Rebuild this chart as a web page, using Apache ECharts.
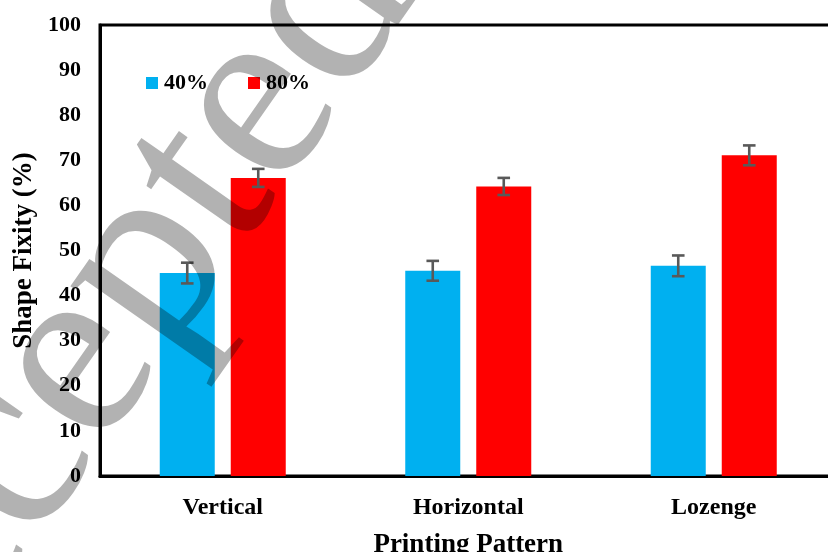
<!DOCTYPE html>
<html>
<head>
<meta charset="utf-8">
<script src="https://cdn.jsdelivr.net/npm/echarts@6/dist/echarts.min.js"></script>
<style>
  html, body { margin: 0; padding: 0; background: #fff; }
  #chart { width: 828px; height: 552px; }
</style>
</head>
<body>
<div id="chart"></div>
<script>
// Shape fixity by printing pattern, two infill levels, with error bars
const categories = ['Vertical', 'Horizontal', 'Lozenge'];
const seriesNames = ['40%', '80%'];
const fixity40 = [45.0, 45.5, 46.6];
const fixity80 = [66.1, 64.2, 71.1];
const error40 = [2.3, 2.2, 2.3];
const error80 = [2.0, 1.9, 2.2];
const yTicks = { min: 0, max: 100, interval: 10 };

const SERIF = '"Liberation Serif", "Times New Roman", serif';
const BAR_W = 55;
const BAR_GAP = 16;
const COLORS = ['#00B0F0', '#FF0000'];

function errorSeries(name, values, errors, sign) {
  const data = values.map((v, i) => [i, v, errors[i]]);
  return {
    type: 'custom',
    name: name + ' error',
    z: 5,
    silent: true,
    data: data,
    encode: { x: 0, y: 1 },
    renderItem: function (params, api) {
      const idx = api.value(0);
      const v = api.value(1);
      const e = api.value(2);
      const offset = sign * (BAR_W + BAR_GAP) / 2;
      const top = api.coord([idx, v + e]);
      const bot = api.coord([idx, v - e]);
      const x = top[0] + offset;
      const half = 6.3;
      const style = { stroke: '#595959', lineWidth: 2.6, fill: null };
      return {
        type: 'group',
        children: [
          { type: 'line', shape: { x1: x, y1: top[1], x2: x, y2: bot[1] }, style: style },
          { type: 'line', shape: { x1: x - half, y1: top[1], x2: x + half, y2: top[1] }, style: style },
          { type: 'line', shape: { x1: x - half, y1: bot[1], x2: x + half, y2: bot[1] }, style: style }
        ]
      };
    }
  };
}

const chart = echarts.init(document.getElementById('chart'), null, { renderer: 'canvas' });

chart.setOption({
  animation: false,
  backgroundColor: '#fff',
  textStyle: { fontFamily: SERIF },
  grid: {
    left: 100, top: 25, width: 736.5, height: 451,
    outerBoundsMode: 'none',
    containLabel: false,
    show: true, borderColor: '#000', borderWidth: 3, backgroundColor: 'transparent'
  },
  legend: {
    left: 146, top: 72, padding: 0,
    itemWidth: 12, itemHeight: 12, itemGap: 40,
    icon: 'rect',
    data: seriesNames,
    textStyle: { fontFamily: SERIF, fontWeight: 'bold', fontSize: 22, color: '#000', padding: [0, 0, 0, 1] }
  },
  xAxis: {
    type: 'category',
    data: categories,
    name: 'Printing Pattern',
    nameLocation: 'middle',
    nameGap: 56,
    nameTextStyle: { fontFamily: SERIF, fontWeight: 'bold', fontSize: 27, color: '#000' },
    axisLine: { lineStyle: { color: '#000', width: 3 } },
    axisTick: { show: false },
    axisLabel: { fontFamily: SERIF, fontWeight: 'bold', fontSize: 24, color: '#000', margin: 20 },
    splitLine: { show: false }
  },
  yAxis: {
    type: 'value',
    min: yTicks.min, max: yTicks.max, interval: yTicks.interval,
    name: 'Shape Fixity (%)',
    nameLocation: 'middle',
    nameGap: 62,
    nameTextStyle: { fontFamily: SERIF, fontWeight: 'bold', fontSize: 27, color: '#000' },
    axisLine: { show: true, lineStyle: { color: '#000', width: 3 } },
    axisTick: { show: false },
    axisLabel: { fontFamily: SERIF, fontWeight: 'bold', fontSize: 22, color: '#000', margin: 19 },
    splitLine: { show: false }
  },
  series: [
    {
      name: seriesNames[0], type: 'bar', data: fixity40,
      barWidth: BAR_W, barGap: (BAR_GAP / BAR_W * 100) + '%',
      itemStyle: { color: COLORS[0] }
    },
    {
      name: seriesNames[1], type: 'bar', data: fixity80,
      barWidth: BAR_W,
      itemStyle: { color: COLORS[1] }
    },
    errorSeries(seriesNames[0], fixity40, error40, -1),
    errorSeries(seriesNames[1], fixity80, error80, 1)
  ],
  graphic: [
    {
      type: 'text',
      z: 100,
      silent: true,
      x: 84, y: 355,
      rotation: 55 * Math.PI / 180,
      style: {
        text: 'Accepted',
        x: 0, y: 0,
        textAlign: 'center',
        textVerticalAlign: 'middle',
        font: '258px ' + SERIF,
        fill: 'rgba(0,0,0,0.3)'
      }
    }
  ]
});
</script>
</body>
</html>
